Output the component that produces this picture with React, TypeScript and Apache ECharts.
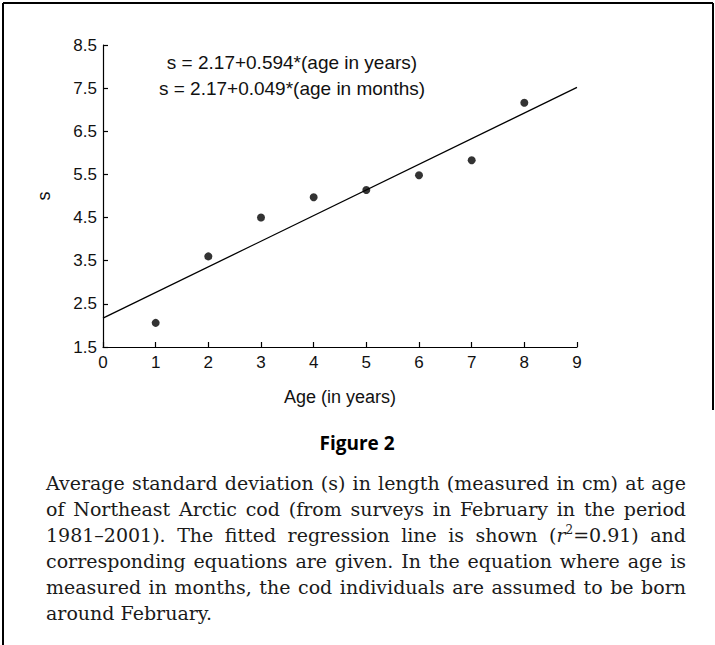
import React, { useEffect, useRef } from "react";
import * as echarts from "echarts";

// ---- data ----
const ages: number[] = [1, 2, 3, 4, 5, 6, 7, 8];
const sdValues: number[] = [2.06, 3.6, 4.5, 4.97, 5.14, 5.48, 5.83, 7.16];
const xTicks: number[] = [0, 1, 2, 3, 4, 5, 6, 7, 8, 9];
const yTicks: number[] = [1.5, 2.5, 3.5, 4.5, 5.5, 6.5, 7.5, 8.5];
const fitIntercept = 2.17;
const fitSlope = 0.594;
const fitAges: number[] = [0, 9];
const equations: string[] = [
  "s = 2.17+0.594*(age in years)",
  "s = 2.17+0.049*(age in months)",
];
const xAxisTitle = "Age (in years)";
const yAxisTitle = "s";
const figureTitle = "Figure 2";
const captionLines: string[] = [
  "Average standard deviation (s) in length (measured in cm) at age",
  "of Northeast Arctic cod (from surveys in February in the period",
  "1981–2001). The fitted regression line is shown (r²=0.91) and",
  "corresponding equations are given. In the equation where age is",
  "measured in months, the cod individuals are assumed to be born",
  "around February.",
];

const SANS = "'Liberation Sans', Arial, Helvetica, sans-serif";
const SERIF = "'DejaVu Serif', serif";
const CAP_SIZE = 19;
const SUP_SIZE = 12;

function buildCaption(): any[] {
  const canvas = document.createElement("canvas");
  const ctx = canvas.getContext("2d") as CanvasRenderingContext2D;
  const measure = (t: string, font: string) => {
    ctx.font = font;
    return ctx.measureText(t).width;
  };
  const normalFont = `${CAP_SIZE}px ${SERIF}`;
  const italicFont = `italic ${CAP_SIZE}px ${SERIF}`;
  const supFont = `${SUP_SIZE}px ${SERIF}`;
  const left = 46;
  const right = 686;
  const top = 483;
  const lh = 26;
  const els: any[] = [];
  const textEl = (x: number, y: number, text: string, opts: any = {}) => ({
    type: "text",
    x,
    y,
    silent: true,
    style: {
      text,
      fontFamily: SERIF,
      fontSize: CAP_SIZE,
      fill: "#1a1a1a",
      align: "left",
      verticalAlign: "middle",
      ...opts,
    },
  });
  captionLines.forEach((line, li) => {
    const words = line.split(" ");
    const y = top + li * lh;
    const wordWidth = (w: string) => {
      if (w.includes("²")) {
        const [pre, post] = w.split("²");
        const p0 = pre.slice(0, -1);
        return (
          measure(p0, normalFont) +
          measure("r", italicFont) +
          measure("2", supFont) +
          measure(post, normalFont)
        );
      }
      return measure(w, normalFont);
    };
    const widths = words.map(wordWidth);
    const total = widths.reduce((a, b) => a + b, 0);
    const last = li === captionLines.length - 1;
    const gap = last
      ? measure(" ", normalFont)
      : Math.max(3, (right - left - total) / Math.max(1, words.length - 1));
    let x = left;
    words.forEach((w, wi) => {
      if (w.includes("²")) {
        const [pre, post] = w.split("²");
        const p0 = pre.slice(0, -1);
        let cx = x;
        els.push(textEl(cx, y, p0));
        cx += measure(p0, normalFont);
        els.push(textEl(cx, y, "r", { fontStyle: "italic" }));
        cx += measure("r", italicFont);
        els.push(textEl(cx, y - 5, "2", { fontSize: SUP_SIZE }));
        cx += measure("2", supFont);
        els.push(textEl(cx, y, post));
      } else {
        els.push(textEl(x, y, w));
      }
      x += widths[wi] + gap;
    });
  });
  return els;
}

export default function App() {
  const ref = useRef<HTMLDivElement>(null);
  useEffect(() => {
    if (!ref.current) return;
    const chart = echarts.init(ref.current, undefined, { renderer: "svg" });
    const scatterData = ages.map((a, i) => [a, sdValues[i]]);
    const fitData = fitAges.map((a) => [a, fitIntercept + fitSlope * a]);
    const axisCommon = {
      axisLine: { show: true, lineStyle: { color: "#000", width: 1.2 } },
      axisTick: {
        show: true,
        inside: true,
        length: 5,
        lineStyle: { color: "#000", width: 1.2 },
      },
      splitLine: { show: false },
      nameLocation: "middle" as const,
      nameTextStyle: { fontFamily: SANS, fontSize: 18, color: "#111" },
    };
    const option: any = {
      animation: false,
      backgroundColor: "#fff",
      grid: { left: 103, right: 138, top: 45, bottom: 298, containLabel: false },
      xAxis: {
        type: "value",
        min: xTicks[0],
        max: xTicks[xTicks.length - 1],
        interval: 1,
        ...axisCommon,
        axisLabel: {
          color: "#111",
          fontFamily: SANS,
          fontSize: 17,
          margin: 7,
        },
        name: xAxisTitle,
        nameGap: 41,
      },
      yAxis: {
        type: "value",
        min: yTicks[0],
        max: yTicks[yTicks.length - 1],
        ...axisCommon,
        axisTick: { ...axisCommon.axisTick, customValues: yTicks },
        axisLabel: {
          customValues: yTicks,
          color: "#111",
          fontFamily: SANS,
          fontSize: 17,
          margin: 6,
          formatter: (v: number) => v.toFixed(1),
        },
        name: yAxisTitle,
        nameRotate: 90,
        nameGap: 50,
      },
      series: [
        {
          type: "line",
          data: fitData,
          symbol: "none",
          lineStyle: { color: "#000", width: 1.3 },
          silent: true,
        },
        {
          type: "scatter",
          data: scatterData,
          symbol: "circle",
          symbolSize: 8,
          itemStyle: { color: "#000" },
        },
      ],
      graphic: [
        { type: "line", shape: { x1: 3, y1: 3, x2: 713, y2: 3 }, style: { stroke: "#000", lineWidth: 2 } },
        { type: "line", shape: { x1: 3, y1: 3, x2: 3, y2: 645 }, style: { stroke: "#000", lineWidth: 2 } },
        { type: "line", shape: { x1: 713, y1: 3, x2: 713, y2: 410 }, style: { stroke: "#000", lineWidth: 2 } },
        {
          type: "text",
          x: 292,
          y: 62,
          style: { text: equations[0], fontFamily: SANS, fontSize: 19, fill: "#111", align: "center", verticalAlign: "middle" },
        },
        {
          type: "text",
          x: 292,
          y: 88,
          style: { text: equations[1], fontFamily: SANS, fontSize: 19, fill: "#111", align: "center", verticalAlign: "middle" },
        },
        {
          type: "text",
          x: 357,
          y: 443,
          style: { text: figureTitle, fontFamily: "'Open Sans', sans-serif", fontWeight: 700, fontSize: 19, fill: "#000", align: "center", verticalAlign: "middle" },
        },
        ...buildCaption(),
      ],
    };
    chart.setOption(option);
    return () => chart.dispose();
  }, []);
  return (
    <div
      ref={ref}
      style={{ position: "fixed", left: 0, top: 0, width: 715, height: 645, background: "#fff" }}
    />
  );
}
